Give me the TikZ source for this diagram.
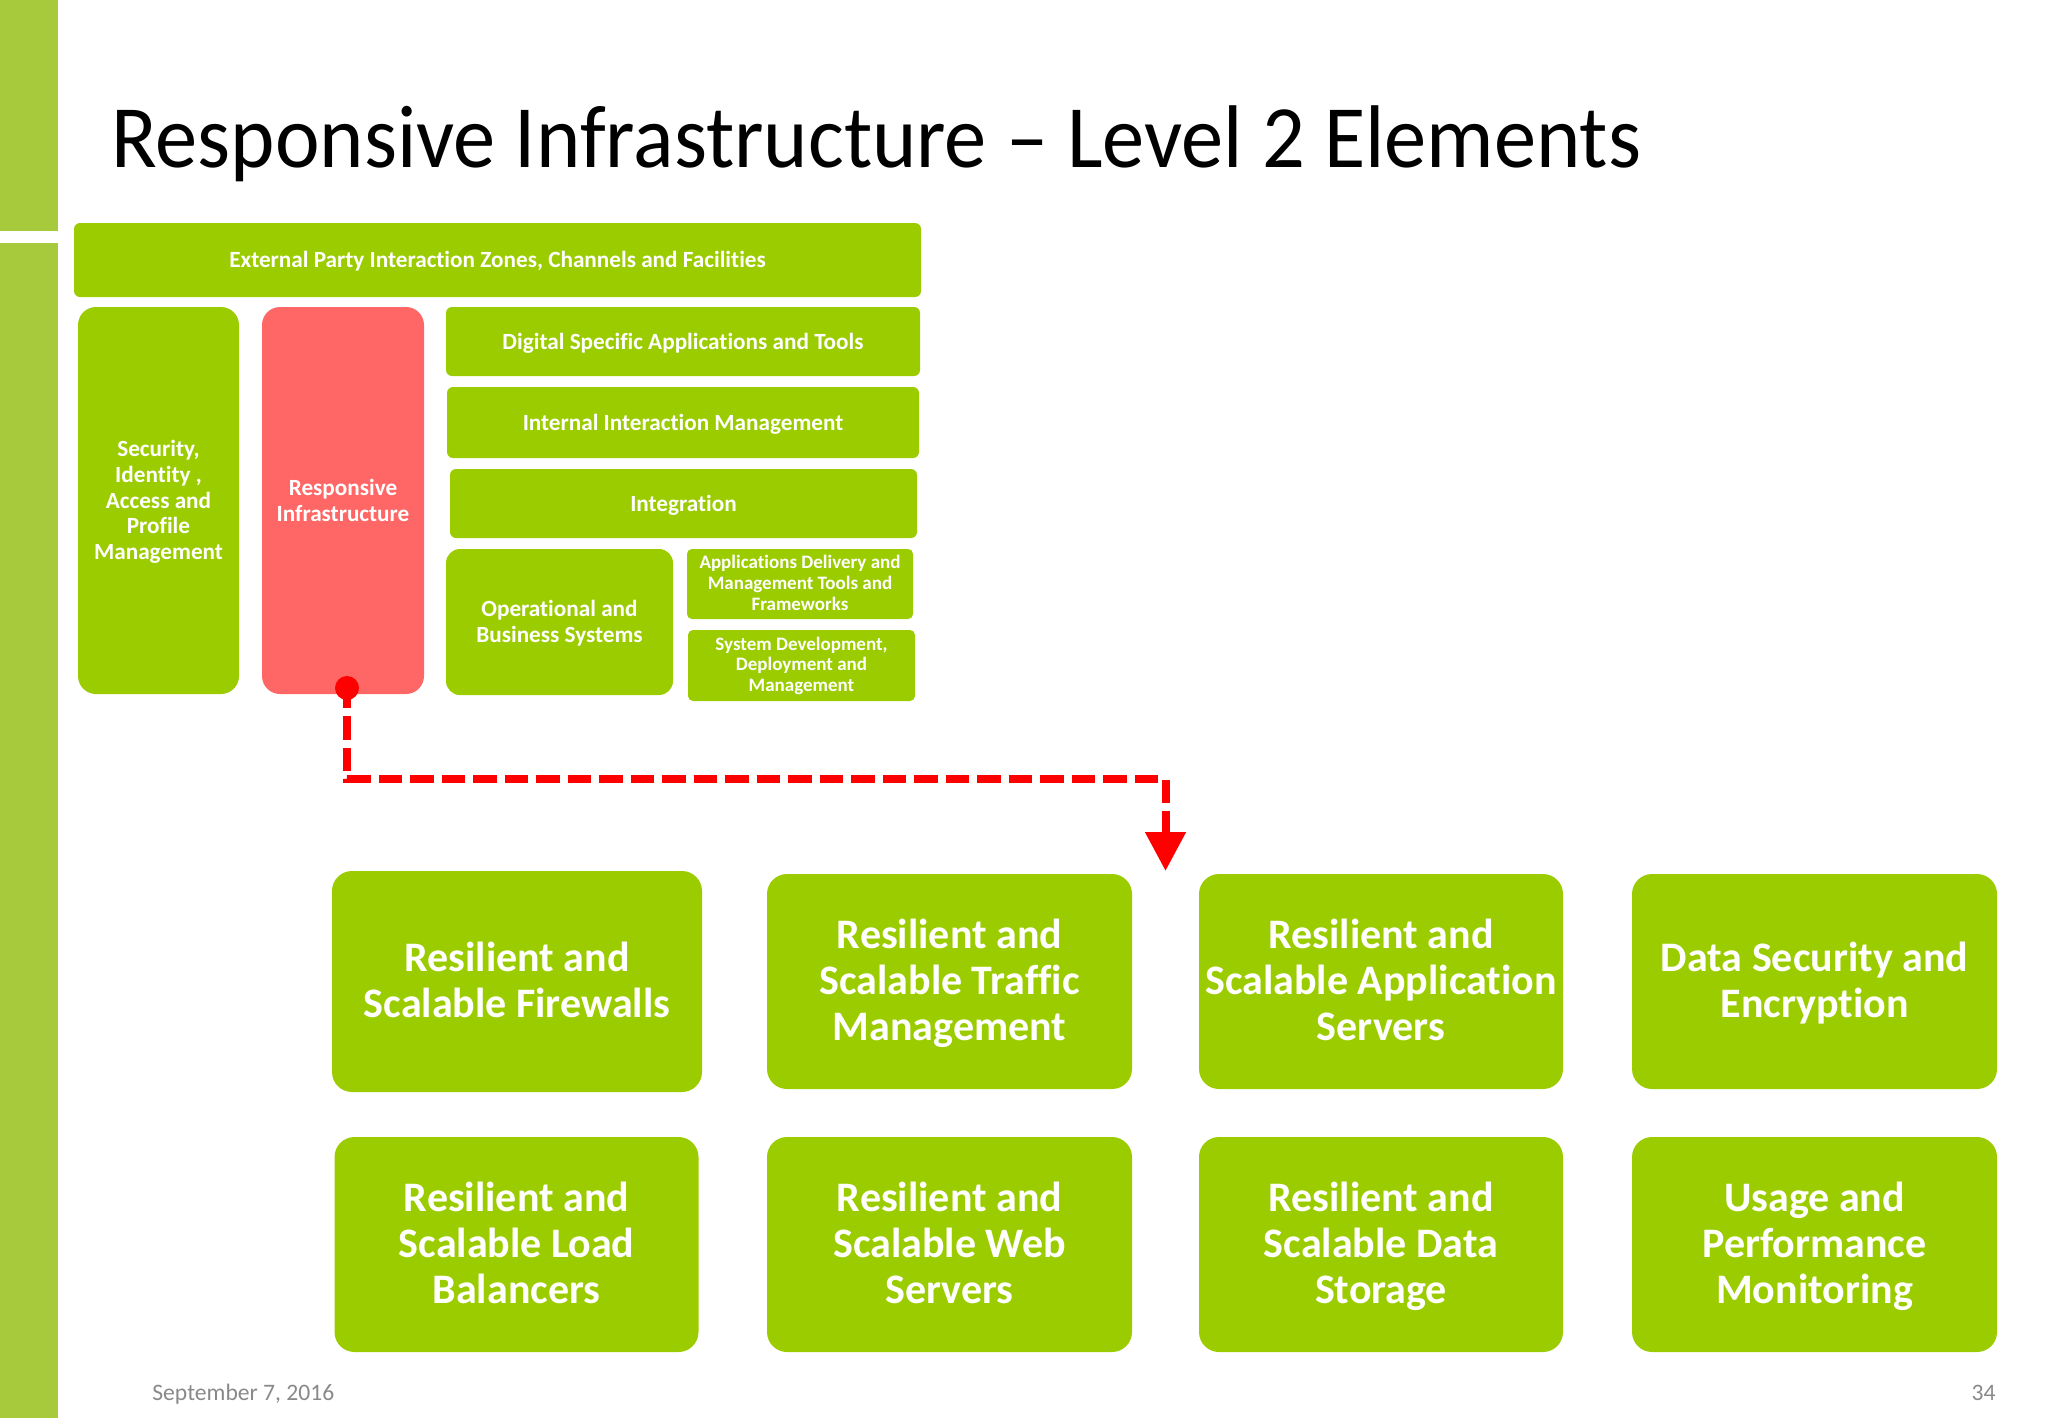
\documentclass[tikz,border=0pt]{standalone}
\usepackage{fontspec}
\setmainfont[Ligatures=NoCommon]{Carlito}
\usetikzlibrary{arrows.meta}
\definecolor{boxgreen}{RGB}{155,204,0}
\definecolor{bargreen}{RGB}{166,202,60}
\definecolor{boxred}{RGB}{255,102,102}
\definecolor{footgray}{RGB}{137,137,137}
% \up: taller first line, pushes the text block down a little as in the slide
\newcommand\bigtype{\fontsize{21}{23}\selectfont\bfseries\def\up{\strut\rule{0pt}{20.1pt}}}
\newcommand\midtype{\fontsize{11.6}{12.9}\selectfont\bfseries\def\up{\strut\rule{0pt}{11.5pt}}}
\newcommand\tinytype{\fontsize{9.5}{10.4}\selectfont\bfseries\def\up{\strut\rule{0pt}{8.6pt}}}
\tikzset{
  wh/.style 2 args={minimum width=#1*0.5pt, minimum height=#2*0.5pt},
  box/.style={rectangle, fill=boxgreen, text=white, align=center, inner sep=0pt},
  big/.style={box, rounded corners=10pt, font=\bigtype},
  mid/.style={box, rounded corners=#1, font=\midtype},
  mid/.default=4pt,
  tiny/.style={box, rounded corners=2.5pt, font=\tinytype},
  foot/.style={inner sep=0pt, text=footgray, font=\fontsize{11.8}{14}\selectfont},
  link/.style={draw=red, line width=4pt, dash pattern=on 11.75pt off 4pt, dash phase=1.75pt}
}
\begin{document}
\begin{tikzpicture}[x=0.5pt, y=-0.5pt]
  \useasboundingbox (0,0) rectangle (2048,1418);
  % side bar
  \fill[bargreen] (0,0) rectangle (58,231);
  \fill[bargreen] (0,243) rectangle (58,1418);
  % title
  \node[anchor=base west, inner sep=0pt, text=black, font=\fontsize{44.5}{50}\selectfont] (title) at (111,167) {\scalebox{0.949}[1]{Responsive Infrastructure -- Level 2 Elements}};
  % small map
  \node[mid=3pt, wh={847}{74}] (ext) at (497.5,260) {\up External Party Interaction Zones, Channels and Facilities};
  \node[mid=9pt, wh={161}{387}] (sec) at (158.5,500.5) {\up Security,\\Identity ,\\Access and\\Profile\\Management\strut};
  \node[mid=9pt, wh={162}{387}, fill=boxred] (resp) at (343,500.5) {\up Responsive\\Infrastructure\strut};
  \node[mid=3pt, wh={474}{69}] (dig) at (683,341.5) {\up Digital Specific Applications and Tools};
  \node[mid=3pt, wh={472}{71}] (int) at (683,422.5) {\up Internal Interaction Management};
  \node[mid=3pt, wh={467}{69}] (integ) at (683.5,503.5) {\up Integration};
  \node[mid=7pt, wh={227}{146}] (ops) at (559.5,622) {\up Operational and\\Business Systems\strut};
  \node[tiny, wh={226}{70}] (apps) at (800,584) {\up Applications Delivery and\\Management Tools and\\Frameworks\strut};
  \node[tiny, wh={227}{71}] (sys) at (801.5,665.5) {\up System Development,\\Deployment and\\Management\strut};
  % level 2 elements
  \node[big, wh={370}{221}] (fw) at (517,981.5) {\up Resilient and\\Scalable Firewalls\strut};
  \node[big, wh={365}{215}] (traf) at (949.5,981.5) {\up Resilient and\\Scalable Traffic\\Management\strut};
  \node[big, wh={364}{215}] (appsrv) at (1381,981.5) {\up Resilient and\\Scalable Application\\Servers\strut};
  \node[big, wh={365}{215}] (enc) at (1814.5,981.5) {\up Data Security and\\Encryption\strut};
  \node[big, wh={364}{215}] (lb) at (516.5,1244.5) {\up Resilient and\\Scalable Load\\Balancers\strut};
  \node[big, wh={365}{215}] (web) at (949.5,1244.5) {\up Resilient and\\Scalable Web\\Servers\strut};
  \node[big, wh={364}{215}] (data) at (1381,1244.5) {\up Resilient and\\Scalable Data\\Storage\strut};
  \node[big, wh={365}{215}] (mon) at (1814.5,1244.5) {\up Usage and\\Performance\\Monitoring\strut};
  % red connector
  \node[circle, fill=red, inner sep=0pt, minimum size=12pt] (dot) at (347,688) {};
  \coordinate (bend) at (1165.5,779);
  \coordinate (tip) at (1165.5,871);
  \draw[link, -{Triangle[length=19.5pt, width=19.5pt, fill=red]}] (dot.center) |- (bend) -- (tip);
  % footer
  \node[foot, anchor=base west] (date) at (152,1400) {September 7, 2016};
  \node[foot, anchor=base east] (page) at (1996,1400) {34};
\end{tikzpicture}
\end{document}
